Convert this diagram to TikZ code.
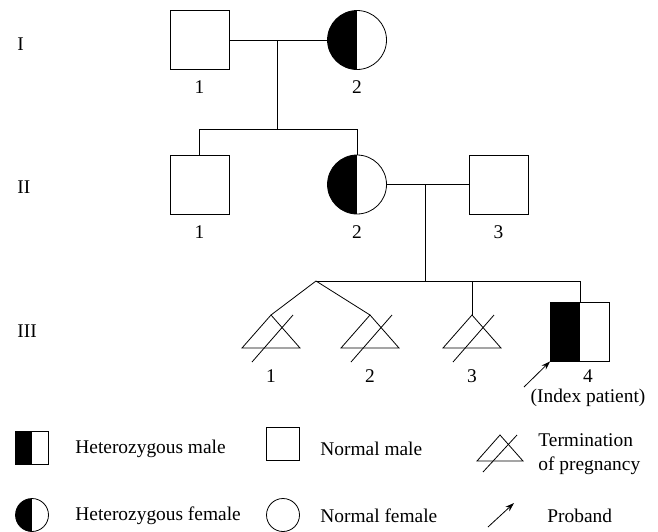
\documentclass[tikz,border=0pt]{standalone}
\usepackage{fontspec}
\setmainfont{Liberation Serif}
\usetikzlibrary{arrows.meta}
\tikzset{
    male/.style={draw, minimum size=59pt, inner sep=0pt},
    female/.style={draw, circle, minimum size=59pt, inner sep=0pt},
    half/.style={path picture={\fill (path picture bounding box.south west) rectangle (path picture bounding box.north);}},
    small/.style={minimum size=33pt},
    proband/.style={-{Stealth[length=9pt,width=6pt]}},
}
\begin{document}
\begin{tikzpicture}[x=1pt, y=-1pt, line width=0.8pt, font=\fontsize{19.4}{23}\selectfont, every node/.append style={inner sep=0pt}]
                \useasboundingbox (0,0) rectangle (658,531);
                % 世代
                \node[anchor=west] (g1) at (17,44) {I};
                \node[anchor=west] (g2) at (17,187) {II};
                \node[anchor=west] (g3) at (17,331) {III};
                % 第 I 世代
                \node[male] (i1) at (199.5,40) {};
                \node[female, half] (i2) at (357,40) {}; % 左半分を塗りつぶす
                \node (n11) at (199.5,87) {1};
                \node (n12) at (357,87) {2};
                \coordinate (m1) at (277,40);
                \coordinate (s1) at (277,130);
                \draw (i1) -- (i2);
                \draw (m1) -- (s1);
                % 第 II 世代
                \node[male] (ii1) at (199.5,184.5) {};
                \node[female, half] (ii2) at (357,184.5) {};
                \node[male] (ii3) at (498.5,184.5) {};
                \node (n21) at (199.5,232) {1};
                \node (n22) at (357,232) {2};
                \node (n23) at (498.5,232) {3};
                \draw (ii1.north) -- ++(0,-25) -| (ii2.north);
                \coordinate (m2) at (425,184.5);
                \coordinate (s2) at (425,281);
                \draw (ii2) -- (ii3);
                \draw (m2) -- (s2);
                % 第 III 世代
                \coordinate (f3) at (316,281);
                \node[male, half] (iii4) at (580,331.5) {};
                \draw (f3) -| (iii4.north);
                \foreach \n/\x in {1/271,2/370,3/472}{
                    \coordinate (t\n) at (\x,315);
                    \draw (t\n) -- ++(-29,33) -- ++(58,0) -- cycle;
                    \draw ([shift={(-19,47)}]t\n) -- ++(41,-47); % 斜線
                    \node (n3\n) at (\x,376) {\n};
                }
                \draw (f3) -- (t1);
                \draw (f3) -- (t2);
                \draw (t3) -- (t3 |- f3);
                \node (n34) at (588,376) {4};
                \node (idx) at (588,398) {(Index patient)};
                \coordinate (pb) at (524,387);
                \draw[proband] (pb) -- (iii4.south west);
                % 凡例
                \node[male, half, small] (lg1) at (31.5,447.5) {};
                \node[anchor=west] (lt1) at (75,449) {Heterozygous male};
                \node[male, small] (lg2) at (282.5,444) {};
                \node[anchor=west] (lt2) at (320,449) {Normal male};
                \coordinate (lg3) at (500,435);
                \draw (lg3) -- ++(-23,26) -- ++(46,0) -- cycle;
                \draw ([shift={(-17,37)}]lg3) -- ++(34,-37);
                \node[anchor=west, align=left] (lt3) at (538,454) {Termination\\[1pt]of pregnancy};
                \node[female, half, small] (lg4) at (32,515) {};
                \node[anchor=west] (lt4) at (75,516) {Heterozygous female};
                \node[female, small] (lg5) at (283,515) {};
                \node[anchor=west] (lt5) at (320,516) {Normal female};
                \coordinate (lg6a) at (488,527);
                \coordinate (lg6b) at (514,503);
                \draw[proband] (lg6a) -- (lg6b);
                \node[anchor=west] (lt6) at (547,516) {Proband};
            \end{tikzpicture}
\end{document}
